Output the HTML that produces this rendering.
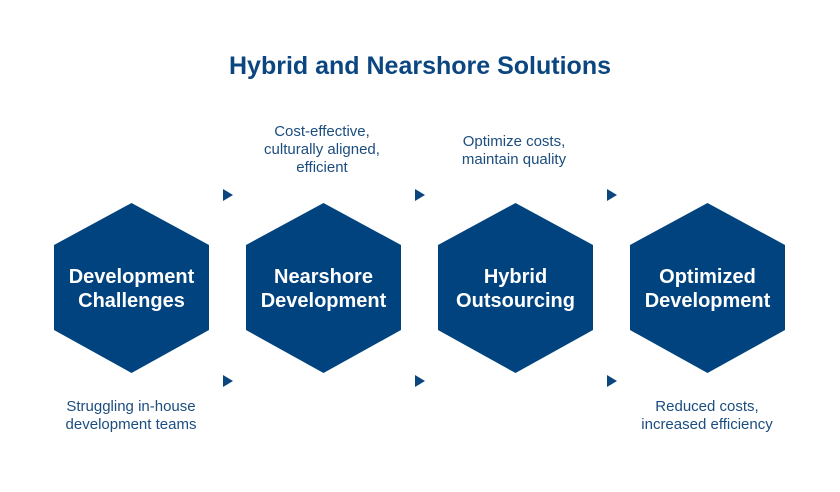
<!DOCTYPE html>
<html><head><meta charset="utf-8"><style>
html,body{margin:0;padding:0;background:#fff;}
svg{display:block;}
text{font-family:"Liberation Sans",Arial,sans-serif;}
</style></head><body>
<svg width="840" height="492" viewBox="0 0 840 492" xmlns="http://www.w3.org/2000/svg">
<text x="420" y="74" text-anchor="middle" font-size="25" font-weight="bold" fill="#0b4680">Hybrid and Nearshore Solutions</text>
<g fill="#00437e">
<polygon points="131.5,203 209,245 209,330 131.5,373 54,330 54,245"/>
<polygon points="323.5,203 401,245 401,330 323.5,373 246,330 246,245"/>
<polygon points="515.5,203 593,245 593,330 515.5,373 438,330 438,245"/>
<polygon points="707.5,203 785,245 785,330 707.5,373 630,330 630,245"/>
</g>
<g fill="#0b4680">
<polygon points="223,189 233,195 223,201"/>
<polygon points="415,189 425,195 415,201"/>
<polygon points="607,189 617,195 607,201"/>
<polygon points="223,375 233,381 223,387"/>
<polygon points="415,375 425,381 415,387"/>
<polygon points="607,375 617,381 607,387"/>
</g>
<g fill="#fff" font-size="20" font-weight="bold" text-anchor="middle">
<text x="131.5" y="283">Development</text><text x="131.5" y="307">Challenges</text>
<text x="323.5" y="283">Nearshore</text><text x="323.5" y="307">Development</text>
<text x="515.5" y="283">Hybrid</text><text x="515.5" y="307">Outsourcing</text>
<text x="707.5" y="283">Optimized</text><text x="707.5" y="307">Development</text>
</g>
<g fill="#1b4d7f" font-size="15" text-anchor="middle">
<text x="322" y="136">Cost-effective,</text>
<text x="322" y="154">culturally aligned,</text>
<text x="322" y="172">efficient</text>
<text x="514" y="146">Optimize costs,</text>
<text x="514" y="164">maintain quality</text>
<text x="131" y="411">Struggling in-house</text>
<text x="131" y="429">development teams</text>
<text x="707" y="411">Reduced costs,</text>
<text x="707" y="429">increased efficiency</text>
</g>
</svg>
</body></html>
